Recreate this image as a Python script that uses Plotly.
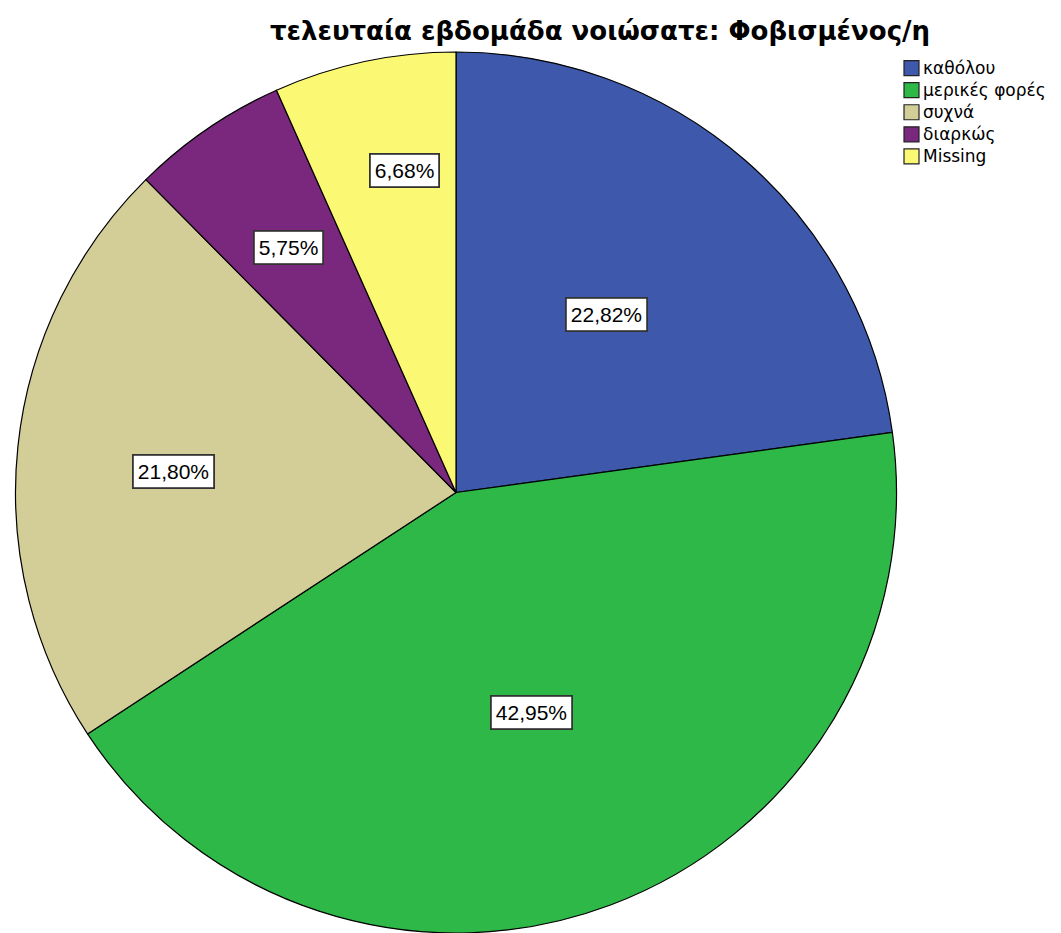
import numpy as np
import plotly.graph_objects as go

labels = ["καθόλου", "μερικές φορές", "συχνά", "διαρκώς", "Missing"]
values = [22.82, 42.95, 21.80, 5.75, 6.68]
text_labels = ["22,82%", "42,95%", "21,80%", "5,75%", "6,68%"]
colors = ["#3E58AC", "#2EB848", "#D3CE97", "#79287D", "#FBF873"]
# label placement style (radius fraction, angle shift in degrees)
label_radius = [0.529, 0.527, 0.644, 0.675, 0.739]
label_shift = [-1.0, 1.6, -1.7, 0.0, 3.0]

W, H = 1061, 933
OFF = 8  # page body margin offset
cx, cy, R = 456 - OFF, 492.5 - OFF, 440.5  # pixel layout of pie

fig = go.Figure(go.Pie(
    labels=labels, values=values, sort=False, direction="clockwise", rotation=0,
    marker=dict(colors=colors, line=dict(color="black", width=1.2)),
    textinfo="none", hoverinfo="label+percent", showlegend=False,
    domain=dict(x=[(cx - R) / W, (cx + R) / W], y=[(H - cy - R) / H, (H - cy + R) / H]),
))

total = sum(values)
cum = np.cumsum([0] + values[:-1])
annotations = []
for v, c, t, rf, sh in zip(values, cum, text_labels, label_radius, label_shift):
    ang = np.deg2rad((c + v / 2) / total * 360 + sh)
    px = cx + rf * R * np.sin(ang)
    py = cy - rf * R * np.cos(ang)
    annotations.append(dict(
        x=px / W, y=1 - py / H, xref="paper", yref="paper", text=t, showarrow=False,
        xanchor="center", yanchor="middle",
        font=dict(family="Liberation Sans, Arial, sans-serif", size=21, color="black"),
        bgcolor="white", bordercolor="#333333", borderwidth=1.8, borderpad=4,
    ))

# custom compact legend: one multi-line text block plus swatches
FS = 17
LH = 1.3 * FS
lx, ltop, sw = 904 - OFF, 57 - OFF, 15
shapes = []
for i, col in enumerate(colors):
    yc = ltop + LH / 2 + i * LH
    shapes.append(dict(type="rect", xref="paper", yref="paper",
                       x0=lx / W, x1=(lx + sw) / W, y0=1 - (yc - sw / 2) / H, y1=1 - (yc + sw / 2) / H,
                       fillcolor=col, line=dict(color="#222222", width=1.2)))
annotations.append(dict(
    x=(lx + sw + 3) / W, y=1 - ltop / H, xref="paper", yref="paper", text="<br>".join(labels),
    showarrow=False, xanchor="left", yanchor="top", align="left", borderpad=0,
    font=dict(family="DejaVu Sans, sans-serif", size=FS, color="black"),
))

fig.update_layout(
    width=W, height=H, margin=dict(l=0, r=0, t=0, b=0),
    paper_bgcolor="white", plot_bgcolor="white",
    title=dict(text="<b>τελευταία εβδομάδα νοιώσατε: Φοβισμένος/η</b>", x=(600 - OFF) / W, xanchor="center",
               y=1 - (31 - OFF) / H, yanchor="middle",
               font=dict(family="DejaVu Sans, sans-serif", size=26, color="black")),
    annotations=annotations, shapes=shapes,
)

fig.write_html("out.html")
